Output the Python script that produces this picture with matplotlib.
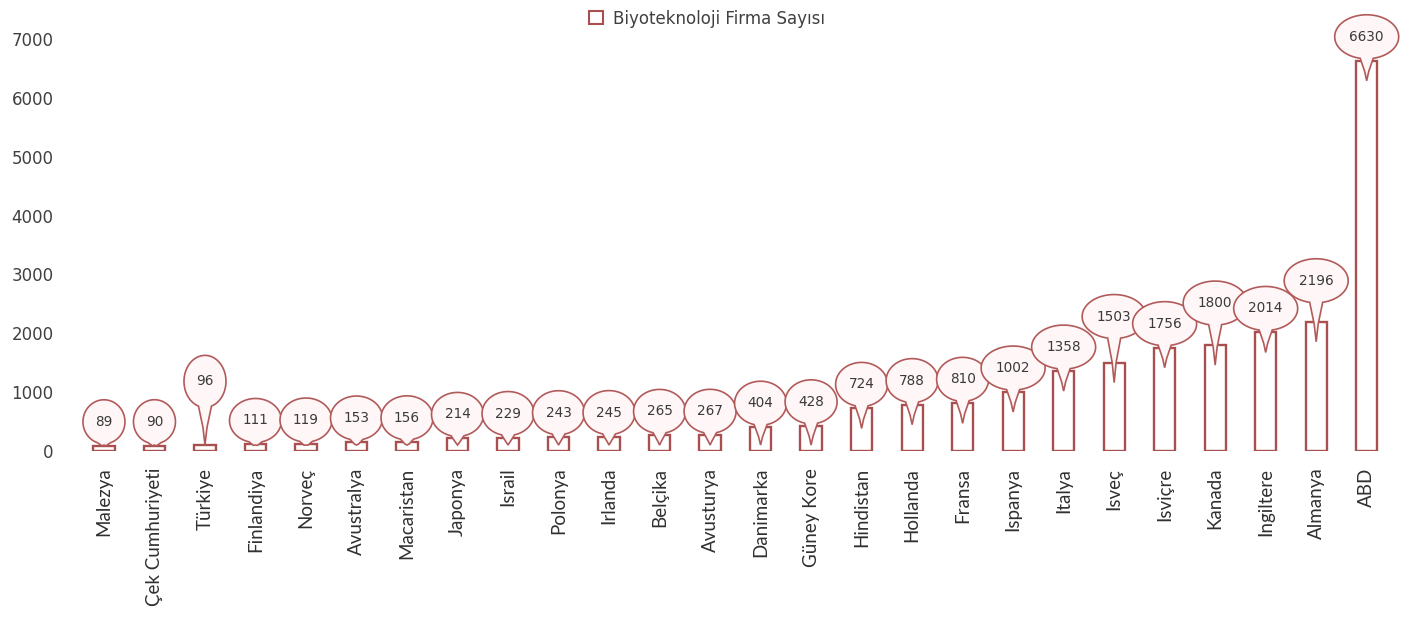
import numpy as np
import matplotlib
matplotlib.use("Agg")
import matplotlib.pyplot as plt
from matplotlib.path import Path
from matplotlib.patches import PathPatch, Patch
import matplotlib.transforms as mtransforms

countries = ["Malezya", "Çek Cumhuriyeti", "Türkiye", "Finlandiya", "Norveç", "Avustralya",
             "Macaristan", "Japonya", "Israil", "Polonya", "Irlanda", "Belçika", "Avusturya",
             "Danimarka", "Güney Kore", "Hindistan", "Hollanda", "Fransa", "Ispanya", "Italya",
             "Isveç", "Isviçre", "Kanada", "Ingiltere", "Almanya", "ABD"]
firms = [89, 90, 96, 111, 119, 153, 156, 214, 229, 243, 245, 265, 267,
         404, 428, 724, 788, 810, 1002, 1358, 1503, 1756, 1800, 2014, 2196, 6630]
series_name = "Biyoteknoloji Firma Sayısı"
yticks = [0, 1000, 2000, 3000, 4000, 5000, 6000, 7000]

# extra lift (pixels) of callouts that were moved to avoid overlap
label_lift = {2: 40, 20: 22, 22: 18, 24: 17}

EDGE = "#a94f4f"
BAL_EDGE = "#b25a5a"
BAL_FACE = "#fff7f7"
TXT = "#3a3a3a"

fig = plt.figure(figsize=(14.08, 6.18), dpi=100)
ax = fig.add_axes([0.0559, 0.2702, 0.9327, 0.6667])

x = np.arange(len(countries))
ax.bar(x, firms, width=0.42, facecolor="white", edgecolor=EDGE, linewidth=1.7, zorder=2)

ax.set_xlim(-0.5, len(countries) - 0.5)
ax.set_ylim(0, 7000)
ax.set_yticks(yticks)
ax.set_yticklabels([str(t) for t in yticks], fontsize=12, color="#404040", family="DejaVu Sans")
ax.set_xticks(x)
ax.set_xticklabels(countries, rotation=90, fontsize=13.5, color="#303030", family="Lato")
ax.tick_params(axis="both", length=0)
ax.tick_params(axis="x", pad=12)
ax.tick_params(axis="y", pad=18)
for s in ax.spines.values():
    s.set_visible(False)

# pixel scale for the y axis
px_per_unit = (ax.transData.transform((0, 1000))[1] - ax.transData.transform((0, 0))[1]) / 1000.0

for i, v in enumerate(firms):
    txt = str(v)
    w = {2: 42, 3: 52, 4: 64}[len(txt)]
    h = 44 if i != 2 else 52
    a, b = w / 2.0, h / 2.0
    bar_top_px = v * px_per_unit
    cy = 24 + label_lift.get(i, 0)           # centre above bar top (px)
    tip = -min(20, bar_top_px - 6)             # tip relative to bar top (px)
    pw = 6.5
    th = np.arcsin(pw / a)
    angs = np.linspace(-np.pi / 2 + th, 3 * np.pi / 2 - th, 80)
    ex = a * np.cos(angs)
    ey = cy + b * np.sin(angs)
    verts = list(zip(ex, ey)) + [(-2.0, (ey[-1] + tip) / 2.0 - 2), (0, tip),
                                 (2.0, (ey[0] + tip) / 2.0 - 2), (ex[0], ey[0])]
    codes = [Path.MOVETO] + [Path.LINETO] * (len(verts) - 2) + [Path.CLOSEPOLY]
    trans = mtransforms.ScaledTranslation(i, v, ax.transData)
    patch = PathPatch(Path(verts, codes), facecolor=BAL_FACE, edgecolor=BAL_EDGE,
                      linewidth=1.2, transform=trans, clip_on=False, zorder=3)
    ax.add_patch(patch)
    ax.annotate(txt, (i, v), xytext=(0, cy * 72 / 100.0), textcoords="offset points",
                ha="center", va="center", fontsize=9.8, color=TXT,
                family="DejaVu Sans", zorder=4, annotation_clip=False)

handle = Patch(facecolor="white", edgecolor=EDGE, linewidth=1.5)
fig.legend([handle], [series_name], loc="center", bbox_to_anchor=(0.502, 0.970),
           frameon=False, fontsize=12, handlelength=0.85, handleheight=0.85,
           handletextpad=0.6, labelcolor="#404040")

fig.savefig("out.png", dpi=100)
